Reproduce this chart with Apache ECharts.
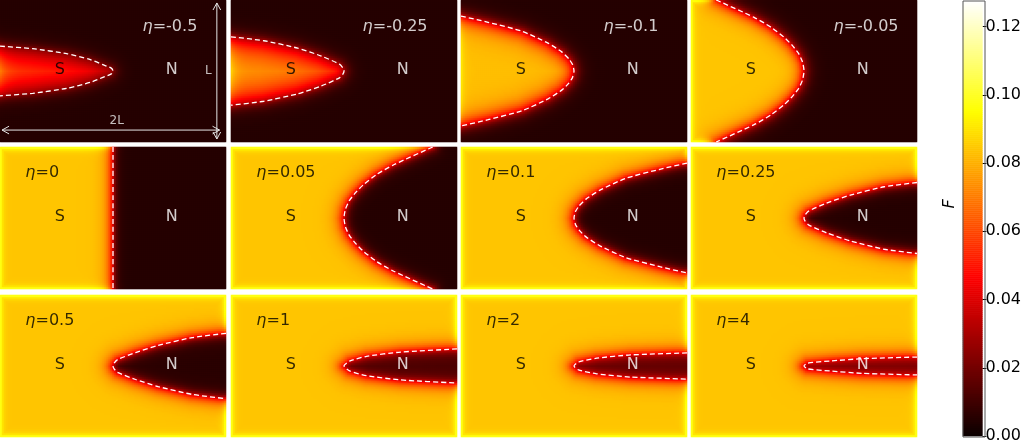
<!DOCTYPE html>
<html><head><meta charset="utf-8">
<script src="https://cdn.jsdelivr.net/npm/echarts@6/dist/echarts.min.js"></script>
<style>html,body{margin:0;padding:0;background:#fff}#c{width:1024px;height:444px}</style>
</head><body><div id="c"></div>
<script>
// ---------------- data ----------------
const etaLabels = ['-0.5','-0.25','-0.1','-0.05','0','0.05','0.1','0.25','0.5','1','2','4'];
// dashed S/N boundary, upper branch: [x / L, half-height / L], tip first (mirrored for lower branch)
const boundary = [
  [[1,0],[0.985,0.020],[0.91,0.045],[0.80,0.080],[0.59,0.122],[0.29,0.157],[0,0.175]],
  [[1,0],[0.99,0.022],[0.96,0.048],[0.80,0.105],[0.59,0.161],[0.29,0.213],[0,0.241]],
  [[1,0],[0.987,0.045],[0.956,0.084],[0.894,0.133],[0.77,0.196],[0.54,0.28],[0.24,0.343],[0,0.387]],
  [[1,0],[0.987,0.063],[0.953,0.122],[0.894,0.182],[0.823,0.238],[0.709,0.308],[0.558,0.378],[0.223,0.5]],
  [[1,0],[1,0.5]],
  [[1,0],[1.013,0.063],[1.047,0.122],[1.106,0.182],[1.177,0.238],[1.291,0.308],[1.44,0.375],[1.785,0.5]],
  [[1,0],[1.013,0.045],[1.044,0.084],[1.106,0.133],[1.23,0.196],[1.46,0.28],[1.76,0.343],[2,0.387]],
  [[1,0],[1.01,0.022],[1.04,0.048],[1.20,0.105],[1.41,0.161],[1.71,0.220],[2,0.25]],
  [[1,0],[1.01,0.020],[1.04,0.045],[1.20,0.095],[1.40,0.145],[1.70,0.200],[2,0.23]],
  [[1,0],[1.05,0.035],[1.20,0.068],[1.50,0.098],[2,0.12]],
  [[1,0],[1.04,0.028],[1.20,0.055],[1.50,0.078],[2,0.092]],
  [[1,0],[1.03,0.020],[1.23,0.035],[1.52,0.052],[2,0.063]]
];
const fS   = [0.068,0.078,0.083,0.084,0.084,0.084,0.084,0.084,0.084,0.084,0.084,0.084]; // S plateau
const fN   = [0.005,0.005,0.005,0.005,0.005,0.005,0.005,0.005,0.006,0.012,0.016,0.020]; // N plateau
const fB   = [0.025,0.032,0.040,0.040,0.040,0.040,0.040,0.040,0.040,0.040,0.040,0.040]; // at boundary
const lamS = [20,14,8,6,5,6,6,6,6,6,6,6];
const lamN = [5,5,5,5,3,4,4,4,4,4,4,4];
const rimA = [0.020,0.015,0.010,0.020,0.020,0.020,0.020,0.020,0.020,0.020,0.020,0.020];
const rimW = [8,5,3,2.5,2.5,2.5,2.5,2.5,2.5,2.5,2.5,2.5];
const cbTicks = [0,0.02,0.04,0.06,0.08,0.10,0.12];
const vmax = 0.1275;

// ---------------- layout ----------------
const FONT = 'DejaVu Sans';
const nx = 113, ny = 71;
const colLeft = [0, 231, 461, 691], rowTop = [0, 147, 295];
const panelW = 226, panelH = 142;
const xs = panelW / 2, ys = panelH;
const etaPos = [[1.257,0.81],[1.16,0.81],[1.257,0.81],[1.257,0.81]]; // row 1 labels
const etaPosLow = [0.22, 0.82];

function hot(t){
  const a = 0.365079, b = 0.746032;
  const r = t < a ? 0.0416 + (1-0.0416)*t/a : 1;
  const g = t < a ? 0 : (t < b ? (t-a)/(b-a) : 1);
  const bl = t < b ? 0 : (t-b)/(1-b);
  const h = v => Math.round(v*255).toString(16).padStart(2,'0');
  return '#' + h(r) + h(g) + h(bl);
}
const hotColors = Array.from({length:129}, (_, i) => hot(i/128));

function segDist(px, py, a, b){
  const dx = b[0]-a[0], dy = b[1]-a[1];
  const L2 = dx*dx + dy*dy;
  let t = L2 ? ((px-a[0])*dx + (py-a[1])*dy)/L2 : 0;
  t = Math.max(0, Math.min(1, t));
  const qx = a[0]+t*dx - px, qy = a[1]+t*dy - py;
  return Math.sqrt(qx*qx + qy*qy);
}

function fieldData(p){
  const pts = boundary[p];
  const up = pts.map(([x,h]) => [x*xs, (0.5+h)*ys]);
  const lo = pts.map(([x,h]) => [x*xs, (0.5-h)*ys]);
  const segs = [];
  for (let i = 0; i < pts.length-1; i++){ segs.push([up[i],up[i+1]]); segs.push([lo[i],lo[i+1]]); }
  const last = pts[pts.length-1];
  const dirX = last[0] - pts[0][0];
  const hMax = last[1];
  const xb = h => {
    if (h > hMax) return dirX > 0 ? Infinity : -Infinity;
    for (let i = 0; i < pts.length-1; i++){
      const [x0,h0] = pts[i], [x1,h1] = pts[i+1];
      if (h <= h1){ const t = h1 === h0 ? 0 : (h-h0)/(h1-h0); return x0 + t*(x1-x0); }
    }
    return last[0];
  };
  const out = [];
  for (let iy = 0; iy < ny; iy++){
    const y = (iy+0.5)/ny, h = Math.abs(y-0.5), xbh = xb(h);
    for (let ix = 0; ix < nx; ix++){
      const x = (ix+0.5)/nx*2;
      const px = x*xs, py = y*ys;
      let d = Infinity;
      for (const s of segs) d = Math.min(d, segDist(px, py, s[0], s[1]));
      let v;
      if (x < xbh) v = fS[p] - (fS[p]-fB[p])*Math.exp(-d/lamS[p]);
      else v = fN[p] + (fB[p]-fN[p])*Math.exp(-d/lamN[p]);
      const e = Math.min(px, panelW-px, py, panelH-py);
      const depth = Math.max(0, Math.min(1, (v-fN[p])/(fS[p]-fN[p])));
      v += rimA[p]*Math.exp(-e/rimW[p])*depth;
      out.push([ix, iy, v]);
    }
  }
  return out;
}

const grids = [], xAxes = [], yAxes = [], series = [], heatIdx = [];
const catX = Array.from({length:nx}, (_, i) => i);
const catY = Array.from({length:ny}, (_, i) => i);

for (let p = 0; p < 12; p++){
  const r = Math.floor(p/4), c = p % 4;
  grids.push({left: colLeft[c], top: rowTop[r], width: panelW, height: panelH});
  xAxes.push({type:'category', gridIndex:p, data:catX, show:false});
  xAxes.push({type:'value', gridIndex:p, min:0, max:2, show:false});
  yAxes.push({type:'category', gridIndex:p, data:catY, show:false});
  yAxes.push({type:'value', gridIndex:p, min:0, max:1, show:false});
  heatIdx.push(series.length);
  series.push({type:'heatmap', xAxisIndex:2*p, yAxisIndex:2*p, data:fieldData(p),
    progressive:0, silent:true, emphasis:{disabled:true}, itemStyle:{borderWidth:0}});
  // dashed boundary
  const pts = boundary[p];
  const line = pts.slice().reverse().map(([x,h]) => [x, 0.5+h]).concat(pts.slice(1).map(([x,h]) => [x, 0.5-h]));
  series.push({type:'line', xAxisIndex:2*p+1, yAxisIndex:2*p+1, data:line, symbol:'none', smooth:0.2,
    silent:true, lineStyle:{color:'#ffffff', width:1.3, type:[5,3]}, z:5});
  // labels
  const dark = r === 0;
  const ep = r === 0 ? etaPos[c] : etaPosLow;
  const txt = (col) => ({fontFamily:FONT, fontSize:16, color:col});
  series.push({type:'scatter', xAxisIndex:2*p+1, yAxisIndex:2*p+1, symbolSize:1, silent:true, z:6,
    itemStyle:{color:'rgba(0,0,0,0)'},
    data:[
      {value:[0.53,0.51], label:{show:true, position:'inside', formatter:'S', ...txt('#000')}},
      {value:[1.52,0.51], label:{show:true, position:'inside', formatter:'N', ...txt('#fff')}},
      {value:ep, label:{show:true, position:'right', distance:0, formatter:'{i|η}{n|=' + etaLabels[p] + '}',
        rich:{i:{...txt(dark?'#fff':'#000'), fontStyle:'italic'}, n:txt(dark?'#fff':'#000')}}}
    ]});
}

// dimension arrows in first panel
const dimArrows = [[1.919,0.979,1.919,0.021],[0.018,0.084,1.943,0.084]];
const dimText = [{value:[1.843,0.503], t:'L'}, {value:[1.033,0.149], t:'2L'}];
series.push({type:'custom', xAxisIndex:1, yAxisIndex:1, silent:true, z:6, data:dimArrows,
  renderItem(params, api){
    const p1 = api.coord([api.value(0), api.value(1)]);
    const p2 = api.coord([api.value(2), api.value(3)]);
    const ang = Math.atan2(p2[1]-p1[1], p2[0]-p1[0]);
    const head = (q, a) => [[q[0]+8*Math.cos(a+0.5), q[1]+8*Math.sin(a+0.5)], q, [q[0]+8*Math.cos(a-0.5), q[1]+8*Math.sin(a-0.5)]];
    const st = {stroke:'#e6e6e6', lineWidth:1, fill:null};
    return {type:'group', children:[
      {type:'line', shape:{x1:p1[0], y1:p1[1], x2:p2[0], y2:p2[1]}, style:st},
      {type:'polyline', shape:{points:head(p1, ang)}, style:st},
      {type:'polyline', shape:{points:head(p2, ang+Math.PI)}, style:st}
    ]};
  }});
series.push({type:'scatter', xAxisIndex:1, yAxisIndex:1, symbolSize:1, silent:true, z:6,
  itemStyle:{color:'rgba(0,0,0,0)'},
  data: dimText.map(d => ({value:d.value, label:{show:true, position:'inside', formatter:d.t, fontFamily:FONT, fontSize:12, color:'#eeeeee'}}))});

// colorbar
const nCb = 218;
const cbG = grids.length;
grids.push({left:963, top:1, width:22, height:436});
xAxes.push({type:'category', gridIndex:cbG, data:[0], show:false});
yAxes.push({type:'category', gridIndex:cbG, data:Array.from({length:nCb}, (_, i) => i), show:false});
yAxes.push({type:'value', gridIndex:cbG, min:0, max:vmax, position:'right',
  axisLine:{show:false}, splitLine:{show:false},
  axisTick:{show:true, length:4, lineStyle:{color:'#000'}, customValues:cbTicks},
  axisLabel:{fontFamily:FONT, fontSize:16, color:'#000', margin:3, customValues:cbTicks, formatter:v => v.toFixed(2)}});
heatIdx.push(series.length);
series.push({type:'heatmap', xAxisIndex:xAxes.length-1, yAxisIndex:yAxes.length-2,
  data:Array.from({length:nCb}, (_, i) => [0, i, (i+0.5)/nCb*vmax]), progressive:0, silent:true});

const option = {
  animation:false,
  backgroundColor:'#ffffff',
  grid:grids, xAxis:xAxes, yAxis:yAxes,
  visualMap:{type:'continuous', show:false, min:0, max:vmax, dimension:2, seriesIndex:heatIdx, inRange:{color:hotColors}},
  graphic:[
    {type:'rect', shape:{x:963, y:1, width:22, height:436}, style:{fill:null, stroke:'#555', lineWidth:1}, z:100},
    {type:'text', x:950, y:204, rotation:Math.PI/2, style:{text:'F', font:'italic 16px "DejaVu Sans"', fill:'#000', textAlign:'center', textVerticalAlign:'middle'}, z:100}
  ],
  series
};
const chart = echarts.init(document.getElementById('c'), null, {renderer:'canvas'});
chart.setOption(option);
</script></body></html>
